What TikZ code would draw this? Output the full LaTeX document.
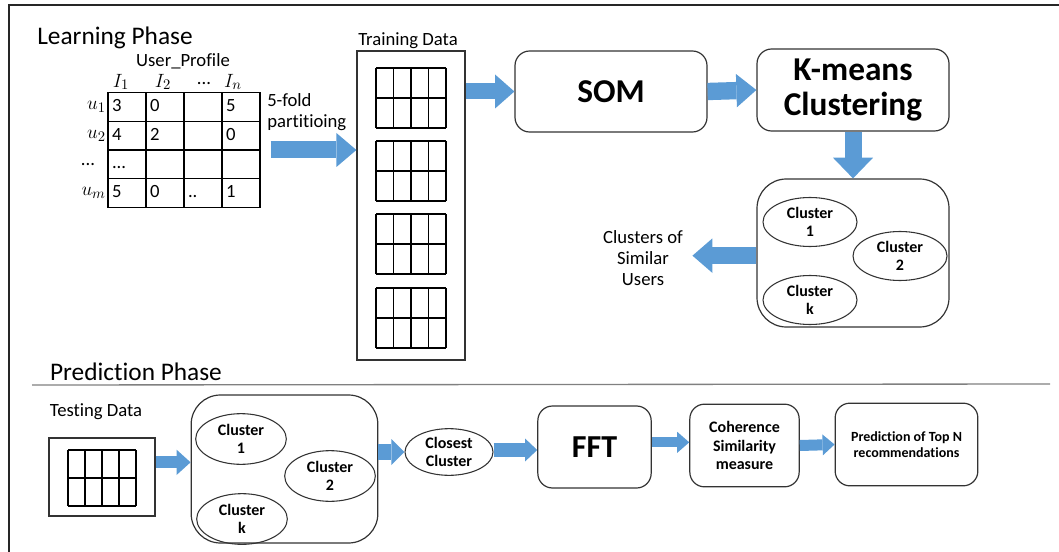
\documentclass[tikz,border=0pt]{standalone}
\usepackage{fontspec}
\setmainfont{Carlito}[Ligatures=NoCommon]
\usetikzlibrary{arrows.meta,shapes.geometric,matrix,positioning}
\definecolor{arrowblue}{HTML}{5B9BD5}
\definecolor{boxline}{HTML}{333333}
\tikzset{
  txt/.style={font=\fontsize{14}{15.5}\selectfont, align=center, inner sep=0pt},
  phase/.style={font=\fontsize{19}{22}\selectfont, inner sep=0pt},
  databox/.style={draw=boxline, line width=0.9pt, inner sep=0pt},
  stagebox/.style={draw=boxline, line width=0.9pt, rounded corners=11pt, align=center, inner sep=0pt},
  groupbox/.style={draw=boxline, line width=0.9pt, rounded corners=22pt, inner sep=0pt},
  cluster/.style={ellipse, draw=boxline, line width=0.8pt, align=center, inner sep=0pt,
    font=\bfseries\fontsize{12}{13.5}\selectfont},
  fatarrow/.style n args={3}{draw=arrowblue, line width=#1,
    -{Triangle[length=#3, width=#2, line width=0pt]}},
}
\begin{document}
\begin{tikzpicture}[x=0.75pt,y=-0.75pt]
\useasboundingbox (0,0) rectangle (1059,552);
\draw[line width=1.5pt, black!85] (1059,5) -- (9,5) -- (9,552);

% learning phase
\node[phase] (learn) at (115,38) {Learning Phase};
\node[txt] (uprof) at (183,61) {User\_Profile};
\matrix (profile) [matrix of nodes, nodes in empty cells, ampersand replacement=\&,
  column sep=-0.8pt, row sep=-0.8pt,
  nodes={draw, line width=0.8pt, outer sep=0pt, text width=22.5pt, inner xsep=3pt,
    text height=10pt, text depth=3pt, minimum height=21.4pt, align=left,
    font=\fontsize{14}{15}\selectfont}] at (184,150) {
  3 \& 0 \& \& 5 \\
  4 \& 2 \& \& 0 \\
  ... \& \& \& \\
  5 \& 0 \& .. \& 1 \\
};
\node[txt, font=\fontsize{15}{16}\selectfont] (h1) at (121,82) {$I_1$};
\node[txt, font=\fontsize{15}{16}\selectfont] (h2) at (163,82) {$I_2$};
\node[txt] (h3) at (204,84) {...};
\node[txt, font=\fontsize{15}{16}\selectfont] (hn) at (233,82) {$I_n$};
\node[txt, anchor=east, font=\fontsize{15}{16}\selectfont] (u1) at ([xshift=-1.5pt]profile-1-1.west) {$u_1$};
\node[txt, anchor=east, font=\fontsize{15}{16}\selectfont] (u2) at ([xshift=-1.5pt]profile-2-1.west) {$u_2$};
\node[txt] (u3) at (88,165) {...};
\node[txt, anchor=east, font=\fontsize{15}{16}\selectfont] (um) at ([xshift=-1.5pt]profile-4-1.west) {$u_m$};
\node[txt, align=left, anchor=west] (fold) at (267,112) {5-fold\\partitioing};

\node[txt] (trainlbl) at (408,41) {Training Data};
\node[databox, minimum width=81pt, minimum height=231.75pt] (train) at (411,205.5) {};
\foreach \gy in {68,141,214,288} {
  \foreach \i in {0,...,4} \draw[line width=0.8pt] (376+17.5*\i,\gy) -- (376+17.5*\i,\gy+60);
  \foreach \j in {0,1,2} \draw[line width=0.8pt] (376,\gy+30*\j) -- (446,\gy+30*\j);
}

\node[stagebox, minimum width=144pt, minimum height=60.75pt,
  font=\bfseries\fontsize{25}{26}\selectfont] (som) at (611,91.5) {SOM};
\node[stagebox, minimum width=144pt, minimum height=61.5pt,
  font=\bfseries\fontsize{25}{26}\selectfont] (kmeans) at (853,90) {K-means\\Clustering};
\node[groupbox, minimum width=144pt, minimum height=111pt] (cbox) at (853,253) {};
\node[cluster, minimum width=70.5pt, minimum height=36.75pt] (c1) at (810,222) {Cluster\\1};
\node[cluster, minimum width=70.5pt, minimum height=36.75pt] (c2) at (900,256) {Cluster\\2};
\node[cluster, minimum width=70.5pt, minimum height=36.75pt] (ck) at (810,300) {Cluster\\k};
\node[txt] (similar) at (643,258) {Clusters of\\Similar\\Users};

\draw[fatarrow={12.75pt}{25.5pt}{15pt}] ([xshift=4pt]profile.east) -- (profile.east -| train.west);
\draw[fatarrow={12pt}{25.5pt}{14.5pt}] (train.east |- som.west) -- (som.west);
\draw[fatarrow={13pt}{25pt}{15pt}] (som.east) -- (kmeans.west);
\draw[fatarrow={12.75pt}{30pt}{15.5pt}] (kmeans.south) -- (cbox.north);
\draw[fatarrow={13pt}{26pt}{15pt}] ([yshift=-2pt]cbox.west) -- ([xshift=7pt,yshift=-2pt]cbox.west -| similar.east);

% prediction phase
\node[phase] (predict) at (136,372) {Prediction Phase};
\draw[gray, line width=1pt] (32,385) -- (1050,384);
\node[txt] (testlbl) at (96,412) {Testing Data};
\node[databox, minimum width=79.5pt, minimum height=58.5pt] (test) at (102,477) {};
\foreach \i in {0,...,4} \draw[line width=0.8pt] (68+17*\i,450) -- (68+17*\i,506);
\foreach \j in {0,1,2} \draw[line width=0.8pt] (68,450+28*\j) -- (136,450+28*\j);

\node[groupbox, minimum width=140pt, minimum height=111pt] (cbot) at (284.5,469) {};
\node[cluster, minimum width=68pt, minimum height=38pt] (b1) at (241,439) {Cluster\\1};
\node[cluster, minimum width=68pt, minimum height=38pt] (b2) at (330,476) {Cluster\\2};
\node[cluster, minimum width=68pt, minimum height=38pt] (bk) at (242,519) {Cluster\\k};
\node[cluster, minimum width=66pt, minimum height=35pt] (closest) at (449,452) {Closest\\Cluster};
\node[stagebox, minimum width=85pt, minimum height=61.5pt,
  font=\bfseries\fontsize{24}{26}\selectfont] (fft) at (594.5,447) {FFT};
\node[stagebox, minimum width=82pt, minimum height=62pt,
  font=\bfseries\fontsize{12}{14}\selectfont] (coh) at (744.5,445.5) {Coherence\\Similarity\\measure};
\node[stagebox, minimum width=107pt, minimum height=62pt,
  font=\bfseries\fontsize{10.5}{12}\selectfont] (pred) at (906.5,444.5) {Prediction of Top N\\recommendations};

\draw[fatarrow={9pt}{19pt}{10.5pt}] ([yshift=11pt]test.east) -- ([yshift=11pt]test.east -| cbot.west);
\draw[fatarrow={12pt}{19.5pt}{9.75pt}] (cbot.east |- closest.west) -- (closest.west);
\draw[fatarrow={10.5pt}{17pt}{9pt}] ([yshift=1.5pt]closest.east) -- ([yshift=1.5pt]closest.east -| fft.west);
\draw[fatarrow={7.5pt}{15.75pt}{9pt}] ([yshift=3.5pt]fft.east) -- ([yshift=3.5pt]fft.east -| coh.west);
\draw[fatarrow={8.25pt}{15.75pt}{9pt}] (coh.east) -- (pred.west);
\end{tikzpicture}
\end{document}
